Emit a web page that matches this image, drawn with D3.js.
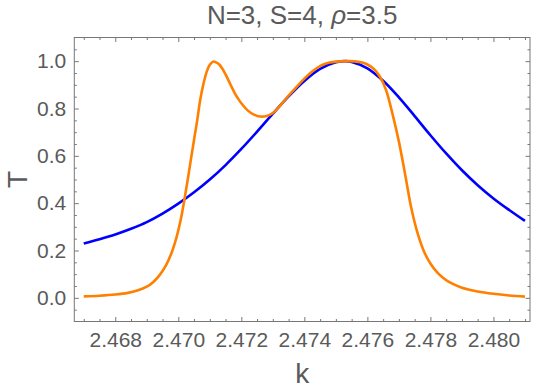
<!DOCTYPE html>
<html><head><meta charset="utf-8">
<script src="https://cdn.jsdelivr.net/npm/d3@7"></script>
<style>html,body{margin:0;padding:0;background:#fff}</style>
</head><body>
<svg id="c" width="540" height="390"></svg>
<script>
const titleText = ["N=3, S=4, ", "ρ", "=3.5"];
const xLabel = "k";
const yLabel = "T";
const xMajorTicks = [2.468, 2.470, 2.472, 2.474, 2.476, 2.478, 2.480];
const yMajorTicks = [0.0, 0.2, 0.4, 0.6, 0.8, 1.0];

const blueK = [2.4670,2.4675,2.4680,2.4685,2.4690,2.4695,2.4700,2.4705,2.4710,2.4715,2.4720,2.4725,2.4730,2.4735,2.4740,2.4745,2.4750,2.4753,2.4755,2.4760,2.4765,2.4770,2.4775,2.4780,2.4785,2.4790,2.4795,2.4800,2.4805,2.4810];
const blueT = [0.230,0.248,0.268,0.292,0.320,0.356,0.398,0.446,0.500,0.561,0.629,0.702,0.778,0.851,0.916,0.967,0.995,1.000,0.997,0.970,0.917,0.847,0.768,0.687,0.610,0.539,0.476,0.420,0.371,0.325];

const orangeK = [2.4670,2.4675,2.4680,2.4684,2.4687,2.4690,2.4692,2.4694,2.4696,2.4698,2.4699,2.4700,2.4701,2.4702,2.4703,2.4704,2.4705,2.4706,2.4707,2.4708,2.4709,2.4710,2.4711,2.4712,2.4713,2.4714,2.4715,2.4716,2.4717,2.4718,2.4719,2.4720,2.4722,2.4724,2.4726,2.4728,2.4730,2.4732,2.4734,2.4736,2.4738,2.4740,2.4742,2.4744,2.4746,2.4748,2.4750,2.4753,2.4756,2.4758,2.4760,2.4762,2.4764,2.4766,2.4768,2.4770,2.4772,2.4774,2.4776,2.4778,2.4780,2.4782,2.4784,2.4786,2.4790,2.4795,2.4800,2.4805,2.4810];
const orangeT = [0.006,0.009,0.014,0.021,0.031,0.047,0.066,0.095,0.135,0.195,0.235,0.285,0.345,0.420,0.500,0.585,0.668,0.750,0.840,0.905,0.955,0.985,0.998,0.995,0.986,0.968,0.944,0.917,0.889,0.863,0.841,0.822,0.792,0.774,0.766,0.768,0.781,0.807,0.839,0.869,0.898,0.926,0.951,0.971,0.986,0.994,0.998,1.000,0.999,0.995,0.986,0.968,0.934,0.875,0.775,0.660,0.520,0.375,0.270,0.195,0.145,0.110,0.085,0.066,0.043,0.027,0.017,0.010,0.005];

const svg = d3.select("#c");
const L = 74.3, R = 530, T0 = 37.5, B = 321.5;
const x = d3.scaleLinear().domain([2.4667, 2.48116]).range([L, R]);
const y = d3.scaleLinear().domain([-0.1, 1.1]).range([B, T0]);

const frameColor = "#777";
const textColor = "#5a5a5a";
const font = "'Liberation Sans', Arial, sans-serif";

const xMinor = d3.range(2.467, 2.48101, 0.0005).filter(v => !xMajorTicks.some(m => Math.abs(m - v) < 1e-7));
const yMinor = d3.range(-0.05, 1.0501, 0.05).filter(v => !yMajorTicks.some(m => Math.abs(m - v) < 1e-7));

const bottomMajor = d3.axisBottom(x).tickValues(xMajorTicks).tickSizeInner(-4.5).tickSizeOuter(0).tickPadding(11).tickFormat(d3.format(".3f"));
const bottomMinor = d3.axisBottom(x).tickValues(xMinor).tickSizeInner(-2.5).tickSizeOuter(0).tickFormat("");
const topMajor = d3.axisTop(x).tickValues(xMajorTicks).tickSizeInner(-4.5).tickSizeOuter(0).tickFormat("");
const topMinor = d3.axisTop(x).tickValues(xMinor).tickSizeInner(-2.5).tickSizeOuter(0).tickFormat("");
const leftMajor = d3.axisLeft(y).tickValues(yMajorTicks).tickSizeInner(-4.5).tickSizeOuter(0).tickPadding(8).tickFormat(d3.format(".1f"));
const leftMinor = d3.axisLeft(y).tickValues(yMinor).tickSizeInner(-2.5).tickSizeOuter(0).tickFormat("");
const rightMajor = d3.axisRight(y).tickValues(yMajorTicks).tickSizeInner(-4.5).tickSizeOuter(0).tickFormat("");
const rightMinor = d3.axisRight(y).tickValues(yMinor).tickSizeInner(-2.5).tickSizeOuter(0).tickFormat("");

function addAxis(ax, tr) {
  const g = svg.append("g").attr("transform", tr).call(ax);
  g.select(".domain").remove();
  g.selectAll(".tick line").attr("stroke", frameColor).attr("stroke-width", 1);
  g.selectAll(".tick text").attr("fill", textColor).attr("font-family", font).attr("font-size", 21);
  return g;
}

const line = d3.line().x(d => x(d[0])).y(d => y(d[1])).curve(d3.curveCatmullRom.alpha(0.5));
const blueData = blueK.map((k, i) => [k, blueT[i]]);
const orangeData = orangeK.map((k, i) => [k, orangeT[i]]);

svg.append("path").datum(blueData).attr("d", line).attr("fill", "none")
  .attr("stroke", "#0000ff").attr("stroke-width", 2.6).attr("stroke-linejoin", "round");
svg.append("path").datum(orangeData).attr("d", line).attr("fill", "none")
  .attr("stroke", "#ff8000").attr("stroke-width", 2.6).attr("stroke-linejoin", "round");

addAxis(bottomMinor, `translate(0,${B})`);
addAxis(bottomMajor, `translate(0,${B})`);
addAxis(topMinor, `translate(0,${T0})`);
addAxis(topMajor, `translate(0,${T0})`);
addAxis(leftMinor, `translate(${L},0)`);
addAxis(leftMajor, `translate(${L},0)`);
addAxis(rightMinor, `translate(${R},0)`);
addAxis(rightMajor, `translate(${R},0)`);

svg.append("rect").attr("x", L).attr("y", T0).attr("width", R - L).attr("height", B - T0)
  .attr("fill", "none").attr("stroke", frameColor).attr("stroke-width", 1);

const t = svg.append("text").attr("x", (L + R) / 2).attr("y", 23.5).attr("text-anchor", "middle")
  .attr("fill", textColor).attr("font-family", font).attr("font-size", 26);
t.append("tspan").text(titleText[0]);
t.append("tspan").attr("font-style", "italic").text(titleText[1]);
t.append("tspan").text(titleText[2]);

svg.append("text").attr("x", (L + R) / 2).attr("y", 382.5).attr("text-anchor", "middle")
  .attr("fill", textColor).attr("font-family", font).attr("font-size", 28).text(xLabel);
svg.append("text").attr("transform", `translate(27,${y(0.5)}) rotate(-90)`).attr("text-anchor", "middle")
  .attr("fill", textColor).attr("font-family", font).attr("font-size", 28).text(yLabel);
</script>
</body></html>
